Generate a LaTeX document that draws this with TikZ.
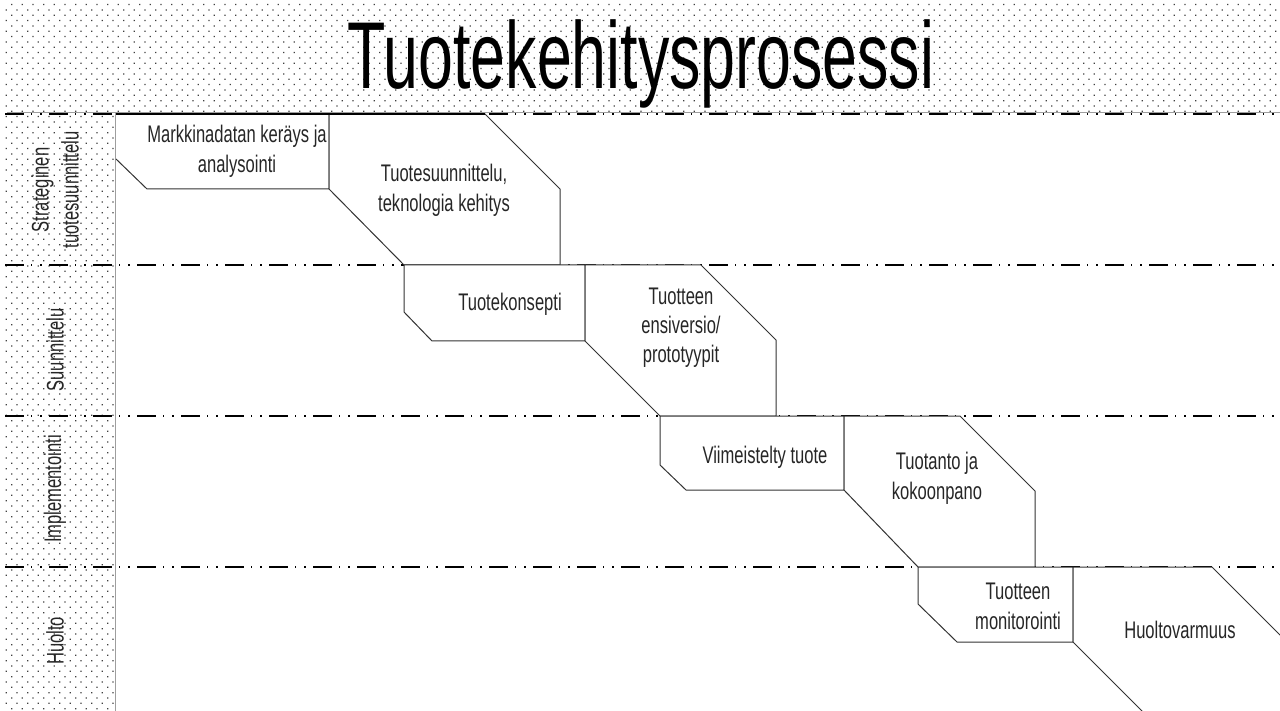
\documentclass[tikz,border=0pt]{standalone}
\usepackage{fontspec}
\newfontfamily\bodyf[FakeStretch=0.69]{Liberation Sans}
\newfontfamily\titlef[FakeStretch=0.66]{Liberation Sans}
\definecolor{dotc}{gray}{0.25}
\definecolor{edgec}{gray}{0.2}
\definecolor{sepc}{gray}{0.62}
\tikzset{
  laneline/.style={line width=2pt, dash pattern=on 18.7pt off 7.3pt on 1.4pt off 7.9pt on 1.4pt off 7.3pt},
  stage/.style={fill=white, draw=edgec, line width=1pt, line join=miter},
  lbl/.style={font=\bodyf\fontsize{24}{30}\selectfont, text=black!85, align=center, inner sep=0pt},
  lanelbl/.style={lbl, rotate=90},
  ttl/.style={font=\titlef\fontsize{95}{95}\selectfont, text=black, inner sep=0pt, anchor=base},
}
\begin{document}
\begin{tikzpicture}[x=1pt,y=-1pt]
\useasboundingbox (0,0) rectangle (1280,711);
\clip (0,0) rectangle (1280,711);
% dotted title band
\foreach \j in {0,...,10}{
  \fill[dotc] foreach \i in {0,...,119}{ ({11+10.667*\i},{4+10.667*\j}) rectangle ++(1.25,1.25) };
}
\foreach \j in {0,...,9}{
  \fill[dotc] foreach \i in {0,...,119}{ ({5.67+10.667*\i},{9.33+10.667*\j}) rectangle ++(1.25,1.25) };
}
% dotted left column
\foreach \j in {11,...,66}{
  \fill[dotc] foreach \i in {0,...,9}{ ({11+10.667*\i},{4+10.667*\j}) rectangle ++(1.25,1.25) };
}
\foreach \j in {10,...,65}{
  \fill[dotc] foreach \i in {0,...,10}{ ({5.67+10.667*\i},{9.33+10.667*\j}) rectangle ++(1.25,1.25) };
}
% separators
\coordinate (bandL) at (7,113);
\coordinate (bandR) at (1280,113);
\draw[sepc, line width=1pt] (bandL) -- (bandR);
\coordinate (colT) at (115.5,113);
\coordinate (colB) at (115.5,711);
\draw[sepc, line width=1pt] (colT) -- (colB);
% lane lines
\foreach \y/\n in {114/a,265/b,416/c,567/d}{
  \coordinate (l\n) at (5,\y);
  \coordinate (r\n) at (1280,\y);
  \draw[laneline] (l\n) -- (r\n);
}
% stages
\fill[white] (116,114) -- (329,114) -- (329,189) -- (147,189) -- (116,159) -- cycle;
\draw[edgec, line width=1pt] (116,159) -- (147,189) -- (329,189) -- (329,114);
\draw[stage] (329,114) -- (485,114) -- (560,189) -- (560,265) -- (404,265) -- (329,189) -- cycle;
\draw[stage] (404,265) -- (585,265) -- (585,341) -- (432,341) -- (404,312) -- cycle;
\draw[stage] (585,265) -- (701,265) -- (776,340) -- (776,416) -- (660,416) -- (585,341) -- cycle;
\draw[stage] (660,416) -- (844,416) -- (844,490) -- (686,490) -- (660,465) -- cycle;
\draw[stage] (844,416) -- (960,416) -- (1035,491) -- (1035,567) -- (918,567) -- (844,490) -- cycle;
\draw[stage] (918,567) -- (1073,567) -- (1073,642) -- (957,642) -- (918,604) -- cycle;
\draw[stage] (1073,567) -- (1212,567) -- (1300,655) -- (1300,740) -- (1171,740) -- (1073,642) -- cycle;
\draw[black, line width=2pt] (116,114) -- (485,114);
% stage texts
\node[lbl] (t1) at (237,151) {Markkinadatan keräys ja\\analysointi};
\node[lbl] (t2) at (444,190) {Tuotesuunnittelu,\\teknologia kehitys};
\node[lbl] (t3) at (510,304) {Tuotekonsepti};
\node[lbl, font=\bodyf\fontsize{24}{29}\selectfont] (t4) at (681,328) {Tuotteen\\ensiversio/\\prototyypit};
\node[lbl] (t5) at (765,457) {Viimeistelty tuote};
\node[lbl] (t6) at (937,478) {Tuotanto ja\\kokoonpano};
\node[lbl] (t7) at (1018,606) {Tuotteen\\monitorointi};
\node[lbl] (t8) at (1180,630) {Huoltovarmuus};
% lane labels
\node[lanelbl] (s1) at (55,190) {Strateginen\\tuotesuunnittelu};
\node[lanelbl] (s2) at (55,350) {Suunnittelu};
\node[lanelbl] (s3) at (55,489) {Implementointi};
\node[lanelbl] (s4) at (55,641) {Huolto};
% title
\node[ttl] (title) at (641,89) {Tuotekehitysprosessi};
\end{tikzpicture}
\end{document}
